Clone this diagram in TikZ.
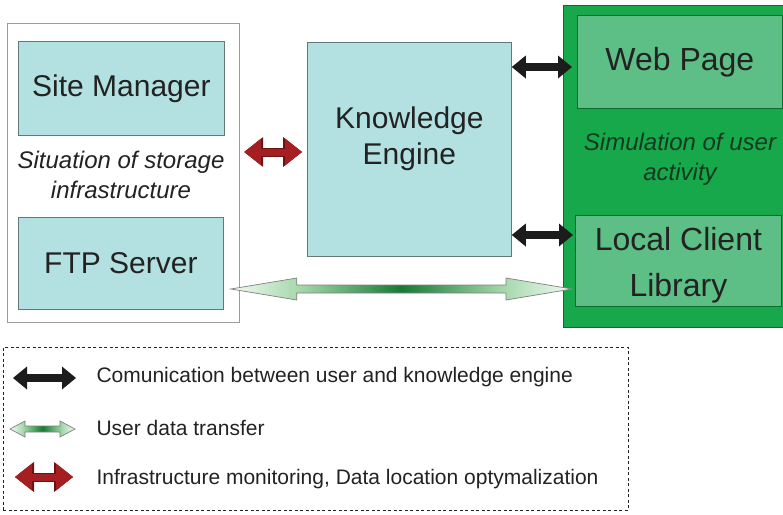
\documentclass[tikz,border=0pt]{standalone}
\usepackage{fontspec}
\setmainfont{Liberation Sans}
\usetikzlibrary{arrows.meta,calc}
\definecolor{boxcyan}{HTML}{B3E1E1}
\definecolor{boxedge}{HTML}{667778}
\definecolor{frameedge}{HTML}{9C9C9C}
\definecolor{usergreen}{HTML}{17A84B}
\definecolor{usergreenedge}{HTML}{0E6B2E}
\definecolor{pagegreen}{HTML}{5EBF86}
\definecolor{notegreen}{HTML}{123A1E}
\definecolor{monitorred}{HTML}{A51F22}
\definecolor{monitordark}{HTML}{6A1214}
\definecolor{commblack}{HTML}{1C1C1C}
\definecolor{textgray}{HTML}{222222}
\definecolor{transferlight}{HTML}{F2FAF2}
\definecolor{transfermid}{HTML}{A6D8AC}
\definecolor{transferdark}{HTML}{177A33}
\pgfdeclarehorizontalshading{transfershade}{100bp}{color(0bp)=(transferlight); color(25bp)=(transferlight); color(35bp)=(transfermid); color(50bp)=(transferdark); color(65bp)=(transfermid); color(75bp)=(transferlight); color(100bp)=(transferlight)}
% block arrow between two coordinates: head length, head half width, shaft half width
\newcommand\transferarrow[5]{%
  \path[transfer] let \p1=(#1), \p2=(#2) in
    (\x1,\y1) -- (\x1+#3,\y1+#4) -- (\x1+#3,\y1+#5) -- (\x2-#3,\y1+#5)
    -- (\x2-#3,\y1+#4) -- (\x2,\y2) -- (\x2-#3,\y1-#4) -- (\x2-#3,\y1-#5)
    -- (\x1+#3,\y1-#5) -- (\x1+#3,\y1-#4) -- cycle;}

\begin{document}
\begin{tikzpicture}[x=1pt, y=-1pt,
  cyanbox/.style={draw=boxedge, fill=boxcyan, line width=0.8pt, anchor=north west,
    inner sep=0pt, align=center, text=textgray, font=\fontsize{30}{36}\selectfont},
  greenbox/.style={cyanbox, draw=usergreenedge, fill=pagegreen,
    font=\fontsize{32}{38}\selectfont},
  boxtext/.style={align=center, text=textgray, font=\fontsize{30}{36}\selectfont},
  note/.style={align=center, text=textgray, font=\fontsize{24}{30}\selectfont\itshape},
  comm/.style={commblack, line width=8pt,
    {Triangle[length=14pt,width=23pt,line width=0pt]}-{Triangle[length=14pt,width=23pt,line width=0pt]}},
  monitor/.style={monitorred, line width=7pt,
    {Triangle[length=17pt,width=27pt,line width=0pt]}-{Triangle[length=17pt,width=27pt,line width=0pt]},
    preaction={draw=monitordark, line width=9pt,
      {Triangle[length=19pt,width=30pt,line width=0pt]}-{Triangle[length=19pt,width=30pt,line width=0pt]}}},
  transfer/.style={draw=gray, line width=0.7pt, shading=transfershade},
  legendtext/.style={anchor=west, text=textgray, font=\fontsize{21}{25}\selectfont}
]
\useasboundingbox (0,0) rectangle (783,514);

% storage side
\node[cyanbox, draw=frameedge, fill=white, line width=1.2pt,
  minimum width=232, minimum height=299] (storage) at (7,23) {};
\node[cyanbox, minimum width=206, minimum height=94] (sitemgr) at (18,41) {Site Manager};
\node[cyanbox, minimum width=205, minimum height=92] (ftp) at (18,217) {FTP Server};
\node[note] (storagenote) at (121,175) {Situation of storage\\infrastructure};

% engine
\node[cyanbox, minimum width=204, minimum height=214] (ke) at (307,42) {};
\node[boxtext] (kelbl) at ([yshift=11pt]ke.center) {Knowledge\\Engine};

% user side
\node[cyanbox, draw=usergreenedge, fill=usergreen, line width=1.4pt,
  minimum width=232, minimum height=322] (user) at (563,5) {};
\node[greenbox, minimum width=205, minimum height=93] (web) at (577,15) {Web Page};
\node[greenbox, minimum width=206, minimum height=91] (lcl) at (575,215) {};
\node[boxtext, font=\fontsize{32}{38}\selectfont] (lcllbl) at ([yshift=-4pt]lcl.center) {Local Client\\[8pt]Library};
\node[note, text=notegreen] (usernote) at (680,159) {Simulation of user\\activity};

% connections
\draw[monitor, shorten <=4pt, shorten >=5pt] (storage.east |- 0,152) -- (ke.west |- 0,152);
\draw[comm, shorten >=5pt] (ke.east |- 0,67) -- (web.west |- 0,67);
\draw[comm, shorten >=2pt] (ke.east |- 0,235) -- (lcl.west |- 0,235);
\coordinate (tl) at ($(ftp.east |- 0,289)+(7,0)$);
\coordinate (tr) at ($(lcl.west |- 0,289)+(-3,0)$);
\transferarrow{tl}{tr}{66pt}{11pt}{4pt}

% legend
\node[draw=textgray, dash pattern=on 3pt off 2.5pt, line width=0.8pt, anchor=north west,
  minimum width=625, minimum height=163] (legend) at (3,347) {};
\coordinate (k1a) at (13,378); \coordinate (k1b) at (76,378);
\coordinate (k2a) at (10,429); \coordinate (k2b) at (75,429);
\coordinate (k3a) at (15,477); \coordinate (k3b) at (73,477);
\draw[comm] (k1a) -- (k1b);
\transferarrow{k2a}{k2b}{15pt}{8pt}{3pt}
\draw[monitor] (k3a) -- (k3b);
\node[legendtext] (k1) at (93,377) {Comunication between user and knowledge engine};
\node[legendtext] (k2) at (93,428) {User data transfer};
\node[legendtext] (k3) at (93,479) {Infrastructure monitoring, Data location optymalization};
\end{tikzpicture}
\end{document}
